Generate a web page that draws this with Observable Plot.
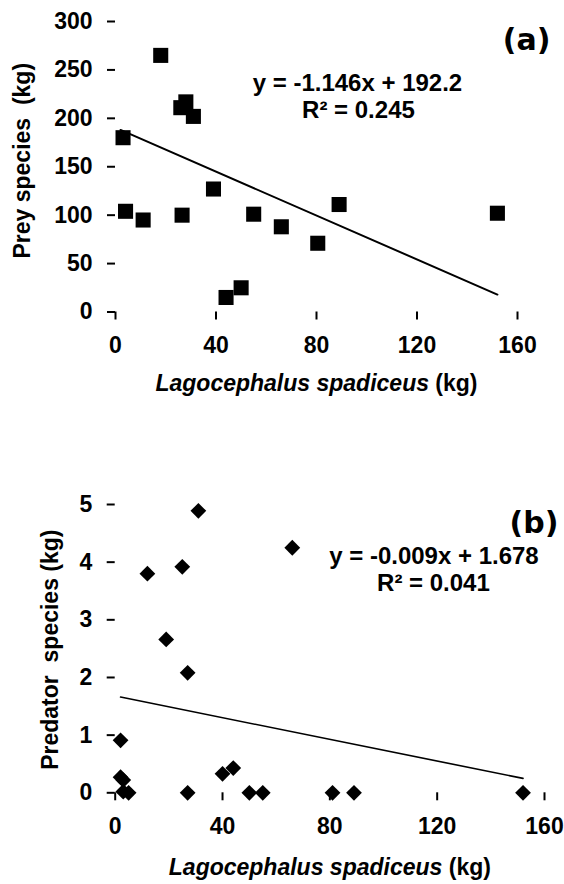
<!DOCTYPE html>
<html>
<head>
<meta charset="utf-8">
<script src="https://cdn.jsdelivr.net/npm/d3@7"></script>
<script src="https://cdn.jsdelivr.net/npm/@observablehq/plot@0.6"></script>
<style>
  html, body { margin: 0; padding: 0; background: #fff; }
  #chart { width: 564px; }
  #chart svg { display: block; }
</style>
</head>
<body>
<div id="chart"></div>
<script>
// ---- Data ----
// Panel (a): prey species vs Lagocephalus spadiceus
const preyX = [3, 4, 11, 18, 26, 28, 31, 26.5, 39, 44, 50, 55, 66, 80.5, 89, 152];
const preyY = [180, 104, 95, 265, 211, 217, 202, 100, 127, 15, 25, 101, 88, 71, 111, 102];
// Panel (b): predator species vs Lagocephalus spadiceus
const predX = [2, 2, 3, 3, 5, 12, 19, 25, 27, 27, 31, 40, 44, 50, 55, 66, 81, 89, 152];
const predY = [0.91, 0.27, 0.22, 0.02, 0, 3.80, 2.66, 3.92, 2.08, 0, 4.89, 0.33, 0.43, 0, 0, 4.25, 0, 0, 0];
// Trend line end points (as drawn)
const trendAX = [2, 152];
const trendAY = [188, 18];
const trendBX = [2, 152];
const trendBY = [1.66, 0.25];
// Ticks
const xTicks = [0, 40, 80, 120, 160];
const preyTicks = [0, 50, 100, 150, 200, 250, 300];
const predTicks = [0, 1, 2, 3, 4, 5];
// Texts
const xTitle = "Lagocephalus spadiceus (kg)";
const xTitleItalic = "Lagocephalus spadiceus";
const xTitleRest = " (kg)";
const yTitleA = "Prey species\u00a0 (kg)";
const yTitleB = "Predator\u00a0 species (kg)";
const eqA = "y = -1.146x + 192.2";
const r2A = "R\u00b2 = 0.245";
const eqB = "y = -0.009x + 1.678";
const r2B = "R\u00b2 = 0.041";
const tagA = "(a)";
const tagB = "(b)";

const preyData = preyX.map((x, i) => ({x, y: preyY[i]}));
const predData = predX.map((x, i) => ({x, y: predY[i]}));
const trendA = trendAX.map((x, i) => ({x, y: trendAY[i]}));
const trendB = trendBX.map((x, i) => ({x, y: trendBY[i]}));

const FONT = "'Liberation Sans', Arial, Helvetica, sans-serif";
const baseStyle = {fontFamily: FONT, fontWeight: "bold", fontSize: "23px", color: "#000", background: "#fff", overflow: "visible"};
const fmt = d => String(d);

const chartA = Plot.plot({
  width: 564, height: 420,
  marginLeft: 115, marginRight: 47, marginTop: 21, marginBottom: 108.5,
  style: baseStyle,
  x: {domain: [0, 160]},
  y: {domain: [0, 300]},
  marks: [
    Plot.axisX({ticks: xTicks, tickFormat: fmt, tickSize: 8, tickPadding: 17, label: null, line: true, strokeWidth: 2, fontSize: 23, fontWeight: "bold"}),
    Plot.axisY({ticks: preyTicks, tickFormat: fmt, tickSize: 8, tickPadding: 15, label: null, line: true, strokeWidth: 2, fontSize: 23, fontWeight: "bold"}),
    Plot.line(trendA, {x: "x", y: "y", stroke: "#000", strokeWidth: 2}),
    Plot.dot(preyData, {x: "x", y: "y", symbol: "square", r: 8.5, fill: "#000", stroke: null}),
    Plot.text([eqA], {x: 96.3, y: 236, text: d => d, fontSize: 24, fontWeight: "bold", fill: "#000"}),
    Plot.text([r2A], {x: 96.7, y: 208, text: d => d, fontSize: 24, fontWeight: "bold", fill: "#000"}),
    Plot.text([tagA], {frameAnchor: "top-right", text: d => d, textAnchor: "end", lineAnchor: "top", dx: 33, dy: 6.7, fontSize: 30, fontWeight: "bold", fontFamily: "'DejaVu Sans', Verdana, sans-serif", fill: "#000"}),
    Plot.text([yTitleA], {frameAnchor: "left", text: d => d, textAnchor: "middle", lineAnchor: "middle", rotate: -90, dx: -92.5, dy: -6, fontSize: 23, fontWeight: "bold", fill: "#000"}),
    Plot.text([xTitle], {frameAnchor: "bottom", text: d => d, textAnchor: "middle", lineAnchor: "middle", dy: 72, fontSize: 23, fontWeight: "bold", fill: "#000"})
  ]
});

const chartB = Plot.plot({
  width: 564, height: 464,
  marginLeft: 114.7, marginRight: 20, marginTop: 84, marginBottom: 91.7,
  style: baseStyle,
  x: {domain: [0, 160]},
  y: {domain: [0, 5]},
  marks: [
    Plot.axisX({ticks: xTicks, tickFormat: fmt, tickSize: 8, tickPadding: 17, label: null, line: true, strokeWidth: 2, fontSize: 23, fontWeight: "bold"}),
    Plot.axisY({ticks: predTicks, tickFormat: fmt, tickSize: 8, tickPadding: 15, label: null, line: true, strokeWidth: 2, fontSize: 23, fontWeight: "bold"}),
    Plot.line(trendB, {x: "x", y: "y", stroke: "#000", strokeWidth: 1.6}),
    Plot.dot(predData, {x: "x", y: "y", symbol: "diamond2", r: 7.1, fill: "#000", stroke: null}),
    Plot.text([eqB], {x: 118.8, y: 4.11, text: d => d, fontSize: 24, fontWeight: "bold", fill: "#000"}),
    Plot.text([r2B], {x: 118.6, y: 3.63, text: d => d, fontSize: 24, fontWeight: "bold", fill: "#000"}),
    Plot.text([tagB], {frameAnchor: "top-right", text: d => d, textAnchor: "end", lineAnchor: "top", dx: 14, dy: 6.7, fontSize: 30, fontWeight: "bold", fontFamily: "'DejaVu Sans', Verdana, sans-serif", fill: "#000"}),
    Plot.text([yTitleB], {frameAnchor: "left", text: d => d, textAnchor: "middle", lineAnchor: "middle", rotate: -90, dx: -64.7, dy: 1, fontSize: 23, fontWeight: "bold", fill: "#000"}),
    Plot.text([xTitle], {frameAnchor: "bottom", text: d => d, textAnchor: "middle", lineAnchor: "middle", dy: 75.3, fontSize: 23, fontWeight: "bold", fill: "#000"})
  ]
});

// Italicise the species name inside the x-axis titles
for (const svg of [chartA, chartB]) {
  svg.querySelectorAll("text").forEach(t => {
    if (t.textContent === xTitle) {
      while (t.firstChild) t.removeChild(t.firstChild);
      const ns = "http://www.w3.org/2000/svg";
      const a = document.createElementNS(ns, "tspan");
      a.setAttribute("font-style", "italic");
      a.textContent = xTitleItalic;
      const b = document.createElementNS(ns, "tspan");
      b.textContent = xTitleRest;
      t.appendChild(a);
      t.appendChild(b);
    }
  });
}

document.getElementById("chart").append(chartA, chartB);
</script>
</body>
</html>
